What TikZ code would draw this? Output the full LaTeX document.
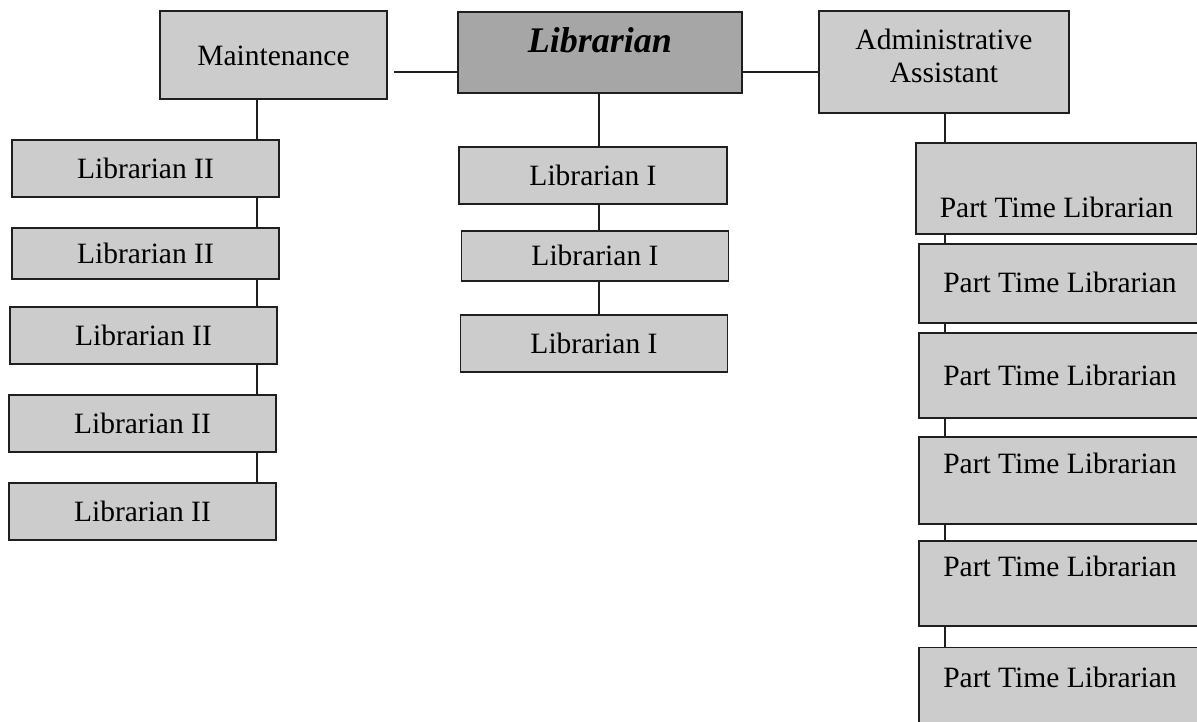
\documentclass[tikz,border=0pt]{standalone}
\usepackage{fontspec}
\setmainfont{Liberation Serif}
\usetikzlibrary{positioning, backgrounds}

\definecolor{boxgray}{gray}{0.80}
\definecolor{headgray}{gray}{0.65}
\definecolor{edgegray}{gray}{0.12}

\begin{document}
\begin{tikzpicture}[
    x=1pt, y=-1pt,
    box/.style={draw=edgegray, line width=1.9pt, fill=boxgray, inner sep=0pt, align=center, font=\fontsize{29.5}{33}\selectfont},
    rank/.style={box, minimum width=267pt, minimum height=57pt},
    parttime/.style={box, minimum width=282pt},
    link/.style={draw=edgegray, line width=1.9pt}
]
    \useasboundingbox (0,0) rectangle (1197,721);

    % top row
    \node[box, anchor=north west, minimum width=227pt, text height=55pt, text depth=33pt] (maint) at (159,10) {Maintenance};
    \node[box, fill=headgray, anchor=north west, minimum width=284pt, text height=41pt, text depth=40pt, font=\fontsize{36}{40}\selectfont\bfseries\itshape] (head) at (457,11) {Librarian};
    \node[box, anchor=north west, minimum width=250pt, text height=72pt, text depth=30pt] (admin) at (818,10) {Administrative\\Assistant};

    % Librarian II column
    \node[rank, anchor=north west] (lii1) at (11,139) {Librarian II};
    \node[rank, below=29pt of lii1, minimum height=51pt] (lii2) {Librarian II};
    \node[rank, below=26pt of lii2, xshift=-2pt] (lii3) {Librarian II};
    \node[rank, below=29pt of lii3, xshift=-1pt] (lii4) {Librarian II};
    \node[rank, below=29pt of lii4] (lii5) {Librarian II};

    % Librarian I column
    \node[rank, anchor=north west, minimum width=268pt] (li1) at (458,146) {Librarian I};
    \node[rank, below=25pt of li1, minimum height=50pt, xshift=2pt] (li2) {Librarian I};
    \node[rank, below=32pt of li2, xshift=-1pt] (li3) {Librarian I};

    % part time column
    \node[parttime, anchor=north west, minimum width=281pt, text height=75pt, text depth=16pt] (pt1) at (915,142) {Part Time Librarian};
    \node[parttime, below=8pt of pt1, xshift=3.5pt, text height=49pt, text depth=30pt] (pt2) {Part Time Librarian};
    \node[parttime, below=8pt of pt2, text height=53pt, text depth=32pt] (pt3) {Part Time Librarian};
    \node[parttime, below=17pt of pt3, text height=37pt, text depth=50pt] (pt4) {Part Time Librarian};
    \node[parttime, below=15pt of pt4, text height=36pt, text depth=49pt] (pt5) {Part Time Librarian};
    \node[parttime, below=20pt of pt5, text height=40pt, text depth=53pt] (pt6) {Part Time Librarian};

    \begin{scope}[on background layer]
        \coordinate (mgap) at (394,72);
        \coordinate (mtrunk) at (257,98);
        \coordinate (ltrunk) at (599,92);
        \coordinate (ptrunk) at (945,112);
        \draw[link] (mgap) -- (head.west |- mgap);
        \draw[link] (head.east |- mgap) -- (admin.west |- mgap);
        \draw[link] (maint.south -| mtrunk) -- (lii5.north -| mtrunk);
        \draw[link] (head.south -| ltrunk) -- (li3.north -| ltrunk);
        \draw[link] (admin.south -| ptrunk) -- (pt6.north -| ptrunk);
    \end{scope}
\end{tikzpicture}
\end{document}
